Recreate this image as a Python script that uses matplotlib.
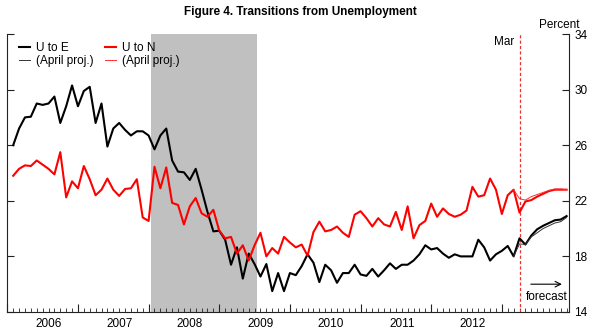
import numpy as np
import matplotlib
matplotlib.use("Agg")
import matplotlib.pyplot as plt
from matplotlib.ticker import MultipleLocator, FixedLocator, NullFormatter

plt.rcParams['font.family'] = ['Liberation Sans', 'DejaVu Sans']

# Monthly transition rates (percent), Jan 2006 - Nov 2013; last 8 months are forecasts
start_year = 2006
u_to_e = [26.0, 27.2, 28.0, 28.05, 29.0, 28.9, 29.0, 29.5, 27.6, 28.8, 30.3, 28.8,
          29.9, 30.2, 27.6, 29.0, 25.9, 27.2, 27.6, 27.1, 26.7, 27.0, 27.0, 26.7,
          25.7, 26.7, 27.2, 24.9, 24.1, 24.05, 23.5, 24.3, 22.8, 21.2, 19.8, 19.85,
          19.2, 17.4, 18.65, 16.4, 18.2, 17.45, 16.55, 17.45, 15.5, 16.8, 15.5, 16.8,
          16.65, 17.3, 18.15, 17.55, 16.15, 17.4, 17.0, 16.1, 16.8, 16.8, 17.4, 16.7,
          16.6, 17.1, 16.55, 17.0, 17.5, 17.1, 17.4, 17.4, 17.7, 18.15, 18.8, 18.5,
          18.6, 18.2, 17.9, 18.15, 18.0, 18.0, 18.0, 19.2, 18.65, 17.7, 18.15, 18.4,
          18.75, 18.0, 19.3, 18.85, 19.5, 19.95, 20.2, 20.4, 20.6, 20.65, 20.9]
u_to_n = [23.8, 24.3, 24.55, 24.5, 24.9, 24.6, 24.3, 23.9, 25.5, 22.25, 23.4, 22.9,
          24.5, 23.55, 22.4, 22.8, 23.6, 22.8, 22.35, 22.85, 22.9, 23.55, 20.8, 20.55,
          24.45, 22.9, 24.4, 21.85, 21.7, 20.3, 21.6, 22.2, 21.1, 20.85, 21.35, 19.85,
          19.3, 19.4, 18.2, 18.8, 17.7, 18.8, 19.7, 18.0, 18.6, 18.2, 19.4, 19.0,
          18.65, 18.85, 18.05, 19.75, 20.5, 19.8, 19.9, 20.15, 19.7, 19.4, 21.0, 21.25,
          20.75, 20.15, 20.75, 20.3, 20.15, 21.2, 19.9, 21.6, 19.3, 20.25, 20.55, 21.8,
          20.85, 21.45, 21.05, 20.85, 21.0, 21.3, 23.0, 22.3, 22.4, 23.6, 22.8, 21.05,
          22.4, 22.8, 21.15, 21.95, 22.05, 22.3, 22.5, 22.7, 22.8, 22.8, 22.8]

# April projections, Feb 2013 - Nov 2013
proj_start_month = 85
u_to_e_april = [18.0, 18.9, 18.85, 19.4, 19.7, 20.0, 20.2, 20.4, 20.5, 20.8]
u_to_n_april = [22.8, 22.15, 22.05, 22.3, 22.45, 22.6, 22.75, 22.85, 22.85, 22.8]

recession = (2008.04, 2009.53)
forecast_start = 2013.25  # March 2013
years = list(range(2006, 2013))
y_ticks = [14, 18, 22, 26, 30, 34]

# month-end positions in fractional years
t = start_year + (np.arange(len(u_to_e)) + 1) / 12.0
t_proj = start_year + (np.arange(proj_start_month, proj_start_month + len(u_to_e_april)) + 1) / 12.0

fig = plt.figure(figsize=(6.0, 3.35), dpi=100)
ax = fig.add_axes([0.01217, 0.0687, 0.9361, 0.8298])

ax.axvspan(recession[0], recession[1], color='#c0c0c0', lw=0, zorder=0)

l1, = ax.plot(t, u_to_e, color='black', lw=1.5, zorder=3, label='U to E')
l3, = ax.plot(t, u_to_n, color='#ff0000', lw=1.5, zorder=3, label='U to N')
l2, = ax.plot(t_proj, u_to_e_april, color='#333333', lw=0.7, zorder=4, label='(April proj.)')
l4, = ax.plot(t_proj, u_to_n_april, color='#ff3030', lw=0.7, zorder=4, label='(April proj.)')

ax.axvline(forecast_start, color='#e83030', lw=0.9, ls=(0, (2.5, 1.8)), zorder=2)

ax.set_xlim(2006.0, 2013.95)
ax.set_ylim(14, 34)

# axis styling
ax.spines['top'].set_visible(False)
for s in ['left', 'right', 'bottom']:
    ax.spines[s].set_linewidth(0.8)
    ax.spines[s].set_color('#222222')

ax.yaxis.set_major_locator(FixedLocator(y_ticks))
ax.tick_params(axis='y', which='both', direction='in', left=True, right=True,
               labelleft=False, labelright=True, length=5, width=0.8,
               labelsize=8.5, pad=4, color='#222222')
ax.xaxis.set_major_locator(FixedLocator(list(range(2006, 2014))))
ax.xaxis.set_minor_locator(MultipleLocator(1 / 12.0))
ax.xaxis.set_major_formatter(NullFormatter())
ax.tick_params(axis='x', which='major', direction='in', length=6, width=0.8, color='#222222')
ax.tick_params(axis='x', which='minor', direction='in', length=3, width=0.6, color='#222222')

for yr in years:
    ax.text(yr + 7 / 12.0, -0.02, str(yr), transform=ax.get_xaxis_transform(),
            ha='center', va='top', fontsize=8.5)

leg = ax.legend(handles=[l1, l2, l3, l4], ncol=2, loc='upper left',
                bbox_to_anchor=(0.008, 1.0), frameon=False, fontsize=8.5,
                handlelength=0.9, handletextpad=0.5, columnspacing=1.0,
                labelspacing=0.1, borderaxespad=0.25)

fig.text(0.5, 0.965, 'Figure 4. Transitions from Unemployment', ha='center', va='center',
         fontsize=8.5, fontweight='bold')
ax.text(0.982, 1.032, 'Percent', transform=ax.transAxes, ha='center', va='center', fontsize=8.5)
ax.text(2013.17, 33.4, 'Mar', ha='right', va='center', fontsize=8.5)
ax.annotate('', xy=(2013.85, 16.0), xytext=(2013.41, 16.0),
            arrowprops=dict(arrowstyle='->', lw=0.8, color='black', shrinkA=0, shrinkB=0))
ax.text(2013.63, 15.1, 'forecast', ha='center', va='center', fontsize=8.5)

fig.savefig('out.png', dpi=100)
